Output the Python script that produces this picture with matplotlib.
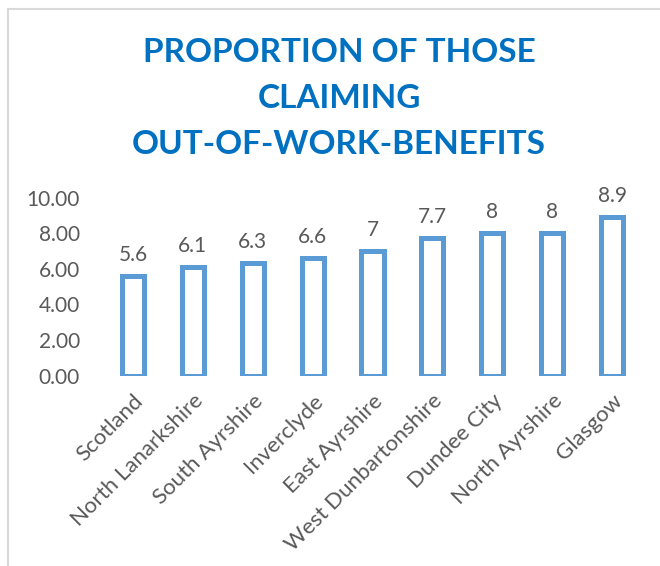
import matplotlib.pyplot as plt
from matplotlib.patches import Rectangle

plt.rcParams['font.family'] = ['Lato', 'DejaVu Sans']

areas = ['Scotland', 'North Lanarkshire', 'South Ayrshire', 'Inverclyde',
         'East Ayrshire', 'West Dunbartonshire', 'Dundee City',
         'North Ayrshire', 'Glasgow']
values = [5.6, 6.1, 6.3, 6.6, 7, 7.7, 8, 8, 8.9]
title_lines = ['PROPORTION OF THOSE', 'CLAIMING', 'OUT-OF-WORK-BENEFITS']

blue = '#5B9BD5'
grey = '#595959'

W, H = 660, 566
fig = plt.figure(figsize=(W / 100, H / 100), dpi=100)
ax = fig.add_axes([103 / W, 190.5 / H, 539 / W, 178 / H])

x = range(len(areas))
ax.bar(x, values, width=0.37, color='white', edgecolor=blue, linewidth=3.6)

# value labels above each bar
for xi, v in zip(x, values):
    ax.annotate(f'{v:g}', (xi, v), xytext=(0, 8), textcoords='offset points',
                ha='center', va='bottom', fontsize=15, color=grey)

ax.set_xlim(-0.5, len(areas) - 0.5)
ax.set_ylim(0, 10)
yt = [0, 2, 4, 6, 8, 10]
ax.set_yticks(yt)
ax.set_yticklabels([f'{t:.2f}' for t in yt])
ax.tick_params(axis='y', length=0, labelsize=15, labelcolor=grey, pad=16.5)
ax.set_xticks(list(x))
ax.set_xticklabels(areas, rotation=45, ha='right', va='top', rotation_mode='anchor',
                   fontsize=16, color=grey)
ax.tick_params(axis='x', length=0, pad=11)
for s in ax.spines.values():
    s.set_visible(False)

# title, one line at a time
for line, ypx in zip(title_lines, [52, 98, 144]):
    fig.text(339 / W, 1 - ypx / H, line, ha='center', va='center',
             fontsize=24, fontweight='bold', color='#0070C0')

# outer chart frame
fig.patches.append(Rectangle((7.5 / W, -0.1), 1.2, 1 - 8.5 / H + 0.1,
                             transform=fig.transFigure, fill=False,
                             edgecolor='#d9d9d9', linewidth=1.5))

fig.savefig('out.png', dpi=100)
